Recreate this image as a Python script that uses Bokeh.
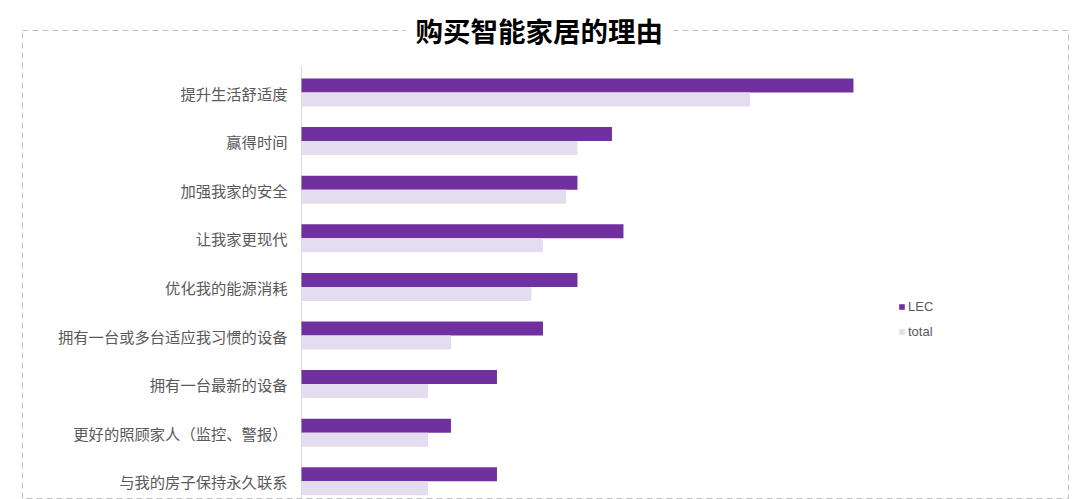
from bokeh.plotting import figure
from bokeh.models import ColumnDataSource, Range1d, Legend, LegendItem
from bokeh.core.properties import value
from bokeh.transform import dodge
from bokeh.embed import file_html
from bokeh.resources import INLINE

# data (percent)
reasons = ["提升生活舒适度",
           "赢得时间",
           "加强我家的安全",
           "让我家更现代",
           "优化我的能源消耗",
           "拥有一台或多台适应我习惯的设备",
           "拥有一台最新的设备",
           "更好的照顾家人（监控、警报）",
           "与我的房子保持永久联系"]
lec = [48, 27, 24, 28, 24, 21, 17, 13, 17]
total = [39, 24, 23, 21, 20, 13, 11, 11, 11]
series_names = ["LEC", "total"]
title_text = "购买智能家居的理由"

LEC_COLOR = "#7030A0"
TOTAL_COLOR = "#E4DDEF"
LABEL_COLOR = "#595959"
CJK = "Noto Sans CJK SC"

source = ColumnDataSource(dict(pos=list(range(len(reasons))),
                               reason=reasons, lec=lec, total=total))

p = figure(width=1072, height=499,
           x_range=Range1d(-24.26, 66.7),
           y_range=Range1d(8.374, -1.276),
           output_backend="svg", toolbar_location=None,
           min_border_left=22, min_border_right=4,
           min_border_top=30, min_border_bottom=0)

p.xaxis.visible = False
p.yaxis.visible = False
p.grid.visible = False
p.background_fill_color = "white"
p.border_fill_color = "white"

# dashed frame around the whole chart
p.outline_line_color = "#BFBFBF"
p.outline_line_dash = "6 4"
p.outline_line_width = 1

# title sits on top of the dashed frame line
p.title.text = title_text
p.title.align = "left"
p.title.offset = 383
p.title.standoff = -58
p.title.text_font = CJK
p.title.text_font_style = "bold"
p.title.text_font_size = "27.5px"
p.title.text_color = "black"
p.title.background_fill_color = "white"
p.title.padding = 10

# light base line where the bars start
p.segment(x0=0, y0=-0.55, x1=0, y1=9, line_color="#D9D9D9", line_width=1)

BAR_H = 0.288
r_lec = p.hbar(y=dodge('pos', -BAR_H / 2), left=0, right='lec', height=BAR_H,
               fill_color=LEC_COLOR, line_color=None, source=source)
r_tot = p.hbar(y=dodge('pos', BAR_H / 2), left=0, right='total', height=BAR_H,
               fill_color=TOTAL_COLOR, line_color=None, source=source)

# category labels
p.text(x=0, y='pos', text='reason', source=source,
       x_offset=-14, text_align="right", text_baseline="middle",
       text_font=value(CJK), text_font_size="15.3px", text_color=LABEL_COLOR)

legend = Legend(items=[LegendItem(label=series_names[0], renderers=[r_lec]),
                       LegendItem(label=series_names[1], renderers=[r_tot])],
                location=(876, 160),
                glyph_width=7, glyph_height=7, label_standoff=3,
                spacing=10, padding=0, margin=0,
                border_line_color=None, background_fill_alpha=0,
                label_text_font="Liberation Sans",
                label_text_font_size="13px",
                label_text_color=LABEL_COLOR)
p.add_layout(legend)

open("out.html", "w").write(file_html(p, INLINE))
